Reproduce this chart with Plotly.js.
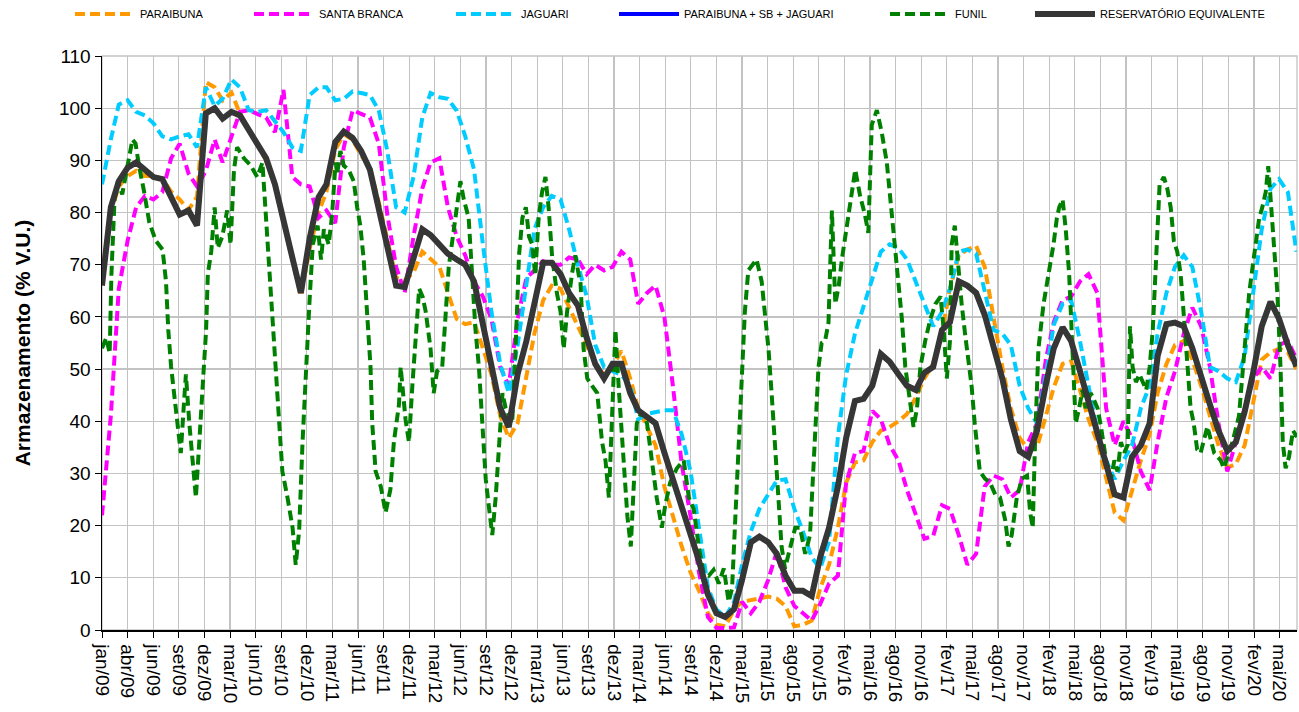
<!DOCTYPE html>
<html>
<head>
<meta charset="utf-8">
<script src="https://cdn.plot.ly/plotly-3.0.1.min.js"></script>
<style>html,body{margin:0;padding:0;background:#fff;}#chart{width:1299px;height:712px;}</style>
</head>
<body>
<div id="chart"></div>
<script>
var months = [
'2009-01','2009-02','2009-03','2009-04','2009-05','2009-06','2009-07','2009-08','2009-09','2009-10','2009-11','2009-12',
'2010-01','2010-02','2010-03','2010-04','2010-05','2010-06','2010-07','2010-08','2010-09','2010-10','2010-11','2010-12',
'2011-01','2011-02','2011-03','2011-04','2011-05','2011-06','2011-07','2011-08','2011-09','2011-10','2011-11','2011-12',
'2012-01','2012-02','2012-03','2012-04','2012-05','2012-06','2012-07','2012-08','2012-09','2012-10','2012-11','2012-12',
'2013-01','2013-02','2013-03','2013-04','2013-05','2013-06','2013-07','2013-08','2013-09','2013-10','2013-11','2013-12',
'2014-01','2014-02','2014-03','2014-04','2014-05','2014-06','2014-07','2014-08','2014-09','2014-10','2014-11','2014-12',
'2015-01','2015-02','2015-03','2015-04','2015-05','2015-06','2015-07','2015-08','2015-09','2015-10','2015-11','2015-12',
'2016-01','2016-02','2016-03','2016-04','2016-05','2016-06','2016-07','2016-08','2016-09','2016-10','2016-11','2016-12',
'2017-01','2017-02','2017-03','2017-04','2017-05','2017-06','2017-07','2017-08','2017-09','2017-10','2017-11','2017-12',
'2018-01','2018-02','2018-03','2018-04','2018-05','2018-06','2018-07','2018-08','2018-09','2018-10','2018-11','2018-12',
'2019-01','2019-02','2019-03','2019-04','2019-05','2019-06','2019-07','2019-08','2019-09','2019-10','2019-11','2019-12',
'2020-01','2020-02','2020-03','2020-04','2020-05','2020-06','2020-07'];

var paraibuna = [
68,80,85,87,88,87,87,86.5,84,82.5,80.5,83,
105,104,101.5,103,99,96,93,90,85,78,71,64,
73,80,84,92,95,94,91,88.5,82,75,67.5,67,
68.5,72.5,71,69.6,64.6,59.6,58.6,59,54,49,41,36.8,
39.6,48.2,56.8,63.2,66,65.4,61.8,58.5,54.6,51,48.9,50.5,
53.5,48.2,42.5,38.9,35.4,27.5,21.8,16,11,7.5,3.2,1,
0.7,3.9,5.4,5.7,6,6.4,6,4.6,0.7,1,1.8,8,
12.5,19.6,28.2,32.1,32.5,36,38.2,38.9,40,41.4,44.6,48.2,
51,57,65.4,71.8,72.9,73.6,69.6,59.6,50.4,42.5,36.8,34.6,
35,41,46.5,51,51.5,46,40.4,36,28.9,22.5,21,26.8,
32.5,37.5,45.4,51,54.6,55.4,51.8,46.8,41,35.4,31.1,31.8,
35.4,44,51.8,53.2,53.9,53.2,50];

var santaBranca = [
22,41,65.4,74.6,81,83.2,82.5,83.9,90.4,93.2,87.5,85,
88,94,89.6,94.6,99.3,99.6,98.9,98.2,95.4,103.5,86.8,85.4,
85,79,80.4,78,92.5,99.6,98.9,98.2,93.2,79.6,69.6,64.6,
75.4,84.6,89.6,90.4,81,75.4,71.8,66.8,63.9,59.6,50.4,46.8,
59.6,67.5,68.9,70.7,70,70,71.4,71,68.2,70,68.9,69.6,
72.5,71,62.5,64.6,66,60,46.8,31.8,21.8,11,2.5,0.4,
0.4,0.5,5.4,3.2,5.4,9.6,15,8.2,4.6,3.2,1.8,5,
8.9,10.4,28.2,33.9,34.3,42,40.4,35.4,32.5,26.8,21.8,17.5,
18,23.9,23.2,18.2,12.5,14.6,27.5,29.6,28.9,25.4,26.8,36,
39.6,51.8,59,63.2,63.9,66.8,68.2,64.6,42.5,35.4,40,36.8,
30.4,26.8,36,44.6,49.6,56.8,61.8,58.2,50.4,39.6,30.4,36,
42.5,48.2,50.4,48.2,54.6,55.4,52];

var jaguari = [
85.4,94,100.7,101.5,99.3,98.6,97.1,94.6,94,94.6,95,92.5,
104,100.4,101.8,105.5,104,99.6,99.3,99.6,97.5,95.4,92.5,91.8,
102.5,104,104,101.5,101.8,103.2,102.9,102.5,99.6,91.8,81,80,
86.8,98.2,102.9,102.1,101.8,99.5,94.6,88.2,73.9,61,51,45.4,
54.6,66.8,76.8,81,83.2,82.5,76.8,70,63.9,54.6,50.4,49.6,
48.9,46.8,40.4,41.4,41.8,42.1,42.1,37.5,30.4,19.6,8.2,3.9,
2.5,5.4,12.5,18.9,23.2,26,28.6,28.9,23.2,18.9,13.9,11.8,
17,37,48.9,56.8,61.8,67,72.5,73.9,73.2,71,66.8,62.5,
58.2,61,65.4,72.5,72.9,72.1,64.6,57.5,56.8,54.6,46.8,42.5,
39.6,48.9,58.5,62.5,63.2,55.4,46.8,38.2,32.5,28.9,32.5,35.4,
42.5,46.8,56.8,64.6,69.6,71.8,69.6,61,50.4,49.6,48.2,47.5,
52.5,64.6,76.8,84.6,86.4,83.9,72.5];

var reservatorio = [
66,81,86,88.6,89.6,88,86.8,86.4,83,79.6,80.4,77.5,
99,100,98,99.3,98.6,95.7,93,90.4,85.4,78,71.4,64.6,
75,82.9,85.4,93.5,95.5,94.3,91.8,88.2,80.4,74,66,65.7,
71,76.8,75.7,74,72.1,71,70,66.8,59,50.4,42.5,38.9,
49,55.4,62.5,70.4,70.4,68.2,64.6,62.2,56,51,48.2,51,
51,45.4,42.1,41,39.6,34,29,24,19,13.2,6.8,3.2,
2.5,4,9.6,16.8,17.9,16.8,14.6,10.4,7.5,7.5,6.5,14,
19.6,27.5,36.8,43.9,44.3,46.8,52.9,51.4,49,46.8,46,49.3,
50.4,57.5,59,66.8,66,64.6,60.4,54.6,48.2,40.4,34.3,33.2,
38.2,47,54,58,55.4,49.6,43.9,37.5,31.8,26,25.4,33.2,
35.4,39.6,52.5,58.6,58.9,58.2,54,49,43.2,38.2,34.3,36,
41.8,49.6,58.2,62.9,59.6,54.6,50.5];

// PARAIBUNA + SB + JAGUARI: no visible line in the reference (legend entry only)
var somaPbSbJag = [null];

var funilDates = [
'2009-01-01','2009-01-16','2009-01-28','2009-02-03','2009-02-14','2009-02-26','2009-03-13','2009-04-06','2009-04-18','2009-04-29',
'2009-05-11','2009-05-29','2009-06-16','2009-07-09','2009-08-02','2009-08-14','2009-08-22','2009-09-01','2009-09-12','2009-09-24',
'2009-10-05','2009-10-15','2009-10-23','2009-11-04','2009-11-16','2009-11-27','2009-12-09','2009-12-21','2010-01-02','2010-01-08',
'2010-01-20','2010-02-01','2010-02-12','2010-02-28','2010-03-17','2010-03-29','2010-04-10','2010-04-21','2010-05-15','2010-06-08',
'2010-07-01','2010-07-19','2010-07-31','2010-08-12','2010-08-24','2010-09-10','2010-09-27','2010-10-15','2010-11-02','2010-11-13',
'2010-11-25','2010-12-07','2010-12-19','2010-12-31','2011-01-12','2011-01-29','2011-02-10','2011-02-20','2011-03-09','2011-03-21',
'2011-04-02','2011-04-08','2011-04-19','2011-05-01','2011-05-18','2011-06-05','2011-06-17','2011-06-28','2011-07-10','2011-07-22',
'2011-08-03','2011-08-09','2011-08-21','2011-09-08','2011-09-25','2011-10-12','2011-10-24','2011-11-11','2011-11-17','2011-12-04',
'2011-12-16','2011-12-28','2012-01-09','2012-01-21','2012-02-02','2012-02-13','2012-03-01','2012-03-12','2012-03-24','2012-04-11',
'2012-04-22','2012-05-04','2012-05-22','2012-06-14','2012-06-26','2012-07-13','2012-07-25','2012-08-06','2012-08-18','2012-08-30',
'2012-09-11','2012-09-23','2012-10-04','2012-10-16','2012-10-27','2012-11-09','2012-11-20','2012-12-13','2012-12-25','2013-01-06',
'2013-01-18','2013-01-30','2013-02-10','2013-02-21','2013-03-04','2013-03-16','2013-03-28','2013-04-09','2013-04-20','2013-05-02',
'2013-05-19','2013-06-01','2013-06-12','2013-06-24','2013-07-11','2013-07-23','2013-08-04','2013-08-10','2013-08-21','2013-09-03',
'2013-09-20','2013-10-08','2013-10-25','2013-11-06','2013-11-18','2013-11-30','2013-12-11','2013-12-23','2014-01-10','2014-01-22',
'2014-02-03','2014-02-13','2014-02-24','2014-03-13','2014-04-01','2014-04-18','2014-05-05','2014-05-23','2014-06-04','2014-06-21',
'2014-07-15','2014-08-08','2014-08-26','2014-09-12','2014-09-30','2014-10-17','2014-11-04','2014-11-21','2014-12-09','2014-12-27',
'2015-01-13','2015-01-25','2015-02-06','2015-02-17','2015-02-28','2015-03-11','2015-03-23','2015-04-21','2015-05-09','2015-05-20',
'2015-06-02','2015-06-13','2015-06-25','2015-07-06','2015-07-18','2015-07-30','2015-08-17','2015-09-04','2015-09-21','2015-10-09',
'2015-10-26','2015-11-10','2015-11-25','2015-12-06','2015-12-18','2015-12-30','2016-01-11','2016-01-23','2016-02-04','2016-02-15',
'2016-03-03','2016-03-15','2016-04-02','2016-04-19','2016-05-06','2016-05-18','2016-05-30','2016-06-17','2016-07-04','2016-07-22',
'2016-08-03','2016-08-15','2016-08-27','2016-09-13','2016-09-25','2016-10-12','2016-10-24','2016-11-05','2016-11-17','2016-12-04',
'2016-12-22','2017-01-09','2017-01-27','2017-02-07','2017-02-18','2017-03-01','2017-03-07','2017-03-18','2017-03-31','2017-04-11',
'2017-04-23','2017-05-04','2017-05-16','2017-05-27','2017-06-14','2017-07-02','2017-07-20','2017-08-07','2017-08-24','2017-09-11',
'2017-09-23','2017-10-04','2017-10-22','2017-11-09','2017-11-27','2017-12-08','2017-12-17','2017-12-25','2018-01-06','2018-01-24',
'2018-02-11','2018-02-28','2018-03-12','2018-03-20','2018-04-01','2018-04-12','2018-04-24','2018-05-05','2018-05-17','2018-05-29',
'2018-06-10','2018-06-21','2018-07-09','2018-07-21','2018-08-02','2018-08-14','2018-09-01','2018-09-18','2018-09-30','2018-10-11',
'2018-10-23','2018-11-04','2018-11-16','2018-11-24','2018-12-03','2018-12-15','2018-12-27','2019-01-20','2019-02-01','2019-02-12',
'2019-02-21','2019-02-28','2019-03-08','2019-03-23','2019-04-04','2019-04-16','2019-04-27','2019-05-09','2019-05-21','2019-06-02',
'2019-06-13','2019-06-25','2019-07-06','2019-07-18','2019-07-30','2019-08-11','2019-08-23','2019-09-16','2019-10-09','2019-10-20',
'2019-11-19','2019-12-12','2019-12-24','2020-01-05','2020-01-17','2020-01-29','2020-02-10','2020-02-21','2020-03-03','2020-03-15',
'2020-03-24','2020-04-02','2020-04-13','2020-04-25','2020-05-06','2020-05-14','2020-05-24','2020-06-05','2020-06-19','2020-07-03'];

var funil = [
54,56,53,68,82.5,86,83.5,90.4,94,93.2,
89,84,78.2,74.6,72.9,66.8,57.5,50.4,44.6,39.6,
33.9,42.5,49,39.6,32.5,25.4,36,45.4,57.5,68.2,
72.5,81,73.2,75.4,80.4,73.9,88.2,92.5,90.4,89,
86.8,89.6,79.6,68.2,57.5,43.2,30.4,25.4,19.6,12.5,
19,36,50.4,62.5,73.9,77.5,71,76.8,73.9,79.6,
89.6,87.5,91.8,89,88.2,86,81,77.5,71,61,
50.4,39.6,30.4,27.5,22.5,27,36,43.2,50.4,40.4,
36,46.8,57.5,65.4,63.9,61,53.9,45.4,49.6,50.4,
59.6,69.6,76.8,86,82.5,79,68.2,57.5,50.4,39.6,
28.9,23.2,18.2,25.4,36,45.4,42.5,39.6,53.9,71.8,
79,81,75.4,73.9,68,79,83.9,86.8,81,71.8,
64.6,61,53.9,61,68.2,71.8,68,66.8,53.9,48.2,
46.8,45.4,36,32.5,25.4,43.2,57.5,46,32.5,21.8,
16,26.8,39.6,41.8,39.6,32.5,25.4,19.6,23.9,28.2,
31,32.5,25.4,23.2,16,11,10.4,11.5,8.9,11.8,
5.4,8,21.8,33.9,46.8,61,68.9,71,66.8,61,
53.9,45.4,36,25.4,16,11.8,15.4,19.6,19.6,14.6,
18.2,36,50.4,55,55.4,58.9,80.4,62.5,66,71,
77.5,82.5,88.2,83.2,79.6,76.1,96.8,99.6,95.4,89.6,
82.5,76.1,68.2,59.6,50.4,43.2,38.9,42.5,50.4,55.4,
59.6,62.5,63.9,57.5,48.2,55.4,73.9,77.5,68.2,62.5,
56.8,51.8,46.8,39.6,30.4,29,28.2,26,25.4,21.1,
16,18.2,25.4,29,29.6,22.5,19.6,36,53.9,62.5,
68.2,73.9,79,81,82.5,76.8,68.2,53.9,39.6,42.5,
46,42.5,45.4,44,42.5,38.9,32.5,29,32.5,30.4,
36,34,35.5,58.2,50.4,47.5,49,46,50.4,57.5,
69.6,78.9,85.4,86.8,84.6,81,74.6,72.5,68.2,59.6,
50.4,42.5,39.6,34.6,33.9,36.8,39,33.9,32.5,31,
36,41,48.2,56.8,64.6,69.6,73.9,78.9,81,83.9,
88.9,82.5,73.9,64.6,50.4,36,31,33.2,38.2,37];

var tickDates = ['2009-01-01','2009-04-01','2009-06-30','2009-09-28','2009-12-27','2010-03-27','2010-06-25','2010-09-23','2010-12-22',
'2011-03-22','2011-06-20','2011-09-18','2011-12-17','2012-03-16','2012-06-14','2012-09-12','2012-12-11','2013-03-11','2013-06-09',
'2013-09-07','2013-12-06','2014-03-06','2014-06-04','2014-09-02','2014-12-01','2015-03-01','2015-05-30','2015-08-28','2015-11-26',
'2016-02-24','2016-05-24','2016-08-22','2016-11-20','2017-02-18','2017-05-19','2017-08-17','2017-11-15','2018-02-13','2018-05-14',
'2018-08-12','2018-11-10','2019-02-08','2019-05-09','2019-08-07','2019-11-05','2020-02-03','2020-05-03'];
var tickLabels = ['jan/09','abr/09','jun/09','set/09','dez/09','mar/10','jun/10','set/10','dez/10',
'mar/11','jun/11','set/11','dez/11','mar/12','jun/12','set/12','dez/12','mar/13','jun/13',
'set/13','dez/13','mar/14','jun/14','set/14','dez/14','mar/15','mai/15','ago/15','nov/15',
'fev/16','mai/16','ago/16','nov/16','fev/17','mai/17','ago/17','nov/17','fev/18','mai/18',
'ago/18','nov/18','fev/19','mai/19','ago/19','nov/19','fev/20','mai/20'];

var seriesNames = ['PARAIBUNA','SANTA BRANCA','JAGUARI','PARAIBUNA + SB + JAGUARI','FUNIL','RESERVATÓRIO EQUIVALENTE'];
var seriesColors = ['#FF9900','#FF00FF','#00CCFF','#0000FF','#008000','#363636'];

var DASH = '10px,5px';
var traces = [
  {x: months, y: paraibuna, name: seriesNames[0], legend: 'legend', mode: 'lines', line: {color: seriesColors[0], width: 4, dash: DASH}},
  {x: months, y: santaBranca, name: seriesNames[1], legend: 'legend2', mode: 'lines', line: {color: seriesColors[1], width: 4, dash: DASH}},
  {x: months, y: jaguari, name: seriesNames[2], legend: 'legend3', mode: 'lines', line: {color: seriesColors[2], width: 4, dash: DASH}},
  {x: months.slice(0, somaPbSbJag.length), y: somaPbSbJag, name: seriesNames[3], legend: 'legend4', mode: 'lines', line: {color: seriesColors[3], width: 4}, showlegend: true},
  {x: funilDates, y: funil, name: seriesNames[4], legend: 'legend5', mode: 'lines', line: {color: seriesColors[4], width: 4, dash: DASH}},
  {x: months, y: reservatorio, name: seriesNames[5], legend: 'legend6', mode: 'lines', line: {color: seriesColors[5], width: 6}}
];

function legendAt(px) {
  return {
    orientation: 'h', xref: 'container', yref: 'container',
    x: px / 1299, y: 1 - 14 / 712, xanchor: 'left', yanchor: 'middle',
    itemwidth: 60,
    font: {size: 11, family: 'Liberation Sans, Arial, sans-serif', color: '#000'},
    bgcolor: 'rgba(0,0,0,0)', borderwidth: 0
  };
}

var layout = {
  width: 1299, height: 712,
  margin: {l: 102, r: 2, t: 56, b: 82},
  paper_bgcolor: '#ffffff', plot_bgcolor: '#ffffff',
  font: {family: 'Liberation Sans, Arial, sans-serif', color: '#000'},
  showlegend: true,
  legend: legendAt(70),
  legend2: legendAt(249),
  legend3: legendAt(451),
  legend4: legendAt(614),
  legend5: legendAt(885),
  legend6: legendAt(1030),
  xaxis: {
    type: 'date',
    range: ['2009-01-01', '2020-07-03'],
    tickmode: 'array', tickvals: tickDates, ticktext: tickLabels,
    tickangle: 90,
    tickfont: {size: 19},
    ticklabelstandoff: 3,
    showgrid: true, gridcolor: '#c3c3c3', gridwidth: 1.3,
    showline: true, linecolor: '#000', linewidth: 1.5,
    ticks: 'outside', ticklen: 6, tickcolor: '#000',
    zeroline: false, fixedrange: true
  },
  yaxis: {
    range: [0, 110], dtick: 10, tick0: 0,
    tickfont: {size: 19},
    showgrid: true, gridcolor: '#c3c3c3', gridwidth: 1.3,
    showline: true, linecolor: '#000', linewidth: 1.5,
    ticks: 'outside', ticklen: 6, tickcolor: '#000',
    zeroline: false, fixedrange: true,
    title: {text: 'Armazenamento (% V.U.)', font: {size: 21, weight: 'bold'}, standoff: 22}
  },
  shapes: [{type: 'rect', xref: 'paper', yref: 'paper', x0: 0, x1: 1, y0: 0, y1: 1,
            line: {color: '#c3c3c3', width: 1.3}, layer: 'below'}],
  hovermode: false
};

Plotly.newPlot('chart', traces, layout, {displayModeBar: false, staticPlot: true});
</script>
</body>
</html>
